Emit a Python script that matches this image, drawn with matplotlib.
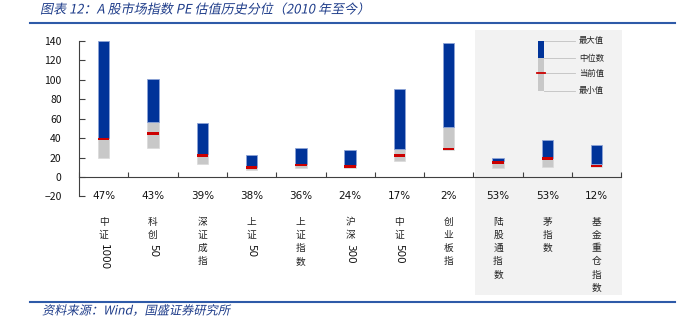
import matplotlib
matplotlib.use("Agg")
import matplotlib.pyplot as plt
import matplotlib.transforms as mtransforms
from matplotlib.patches import Rectangle
from matplotlib.lines import Line2D
from matplotlib.patheffects import AbstractPathEffect
import numpy as np

# data
names = ['中证1000', '科创50', '深证成指', '上证50', '上证指数', '沪深300',
         '中证500', '创业板指', '陆股通指数', '茅指数', '基金重仓指数']
pct = ['47%', '43%', '39%', '38%', '36%', '24%', '17%', '2%', '53%', '53%', '12%']
max_v = [140, 101, 56, 23, 30, 28, 91, 137.5, 19.5, 38, 33]
median_v = [40, 57, 24, 10.5, 13.5, 12, 28.5, 51, 16, 20, 13.4]
current_v = [39, 45, 22, 9.5, 12.5, 11, 22, 29, 15, 19, 11.3]
min_v = [19.5, 30, 13, 7.5, 9, 9, 16, 28, 9.6, 10.6, 9.8]
yticks = [-20, 0, 20, 40, 60, 80, 100, 120, 140]
legend_labels = ['最大值', '中位数', '当前值', '最小值']

plt.rcParams['font.family'] = ['Noto Sans CJK SC', 'DejaVu Sans']

W, H = 678, 326
fig = plt.figure(figsize=(W / 100, H / 100), dpi=100)
fig.patch.set_facecolor('white')

def fx(px):
    return px / W

def fy(py):
    return 1 - py / H

BLUE = '#003399'
GRAY = '#C8C8C8'
RED = '#CC0000'
TITLE_C = '#1F3D8A'
LINE_C = '#2E5AA8'


class Slant(AbstractPathEffect):
    # fake italic: shear glyphs about the text origin (CJK fonts have no italic)
    def draw_path(self, renderer, gc, tpath, affine, rgbFace=None):
        m = affine.get_matrix()
        x0, y0 = m[0, 2], m[1, 2]
        sk = mtransforms.Affine2D().translate(-x0, -y0).skew_deg(12, 0).translate(x0, y0)
        renderer.draw_path(gc, tpath, affine + sk, rgbFace)


# shaded area behind last three indices
fig.patches.append(Rectangle((fx(475), fy(295)), fx(622) - fx(475), fy(30) - fy(295),
                             transform=fig.transFigure, facecolor='#F2F2F2',
                             edgecolor='none', zorder=0))

ax = fig.add_axes([fx(79), fy(196.4), fx(621.3) - fx(79), fy(41) - fy(196.4)])
ax.patch.set_alpha(0)
ax.set_zorder(2)

x = np.arange(len(names))
mx = np.array(max_v)
md = np.array(median_v)
cu = np.array(current_v)
mn = np.array(min_v)
bw = 0.23

ax.bar(x, md - mn, bottom=mn, width=bw, color=GRAY, edgecolor='#DADADA', linewidth=0.5, zorder=3)
ax.bar(x, mx - md, bottom=md, width=bw, color=BLUE, edgecolor='#8DA3D6', linewidth=0.6, zorder=3)
ax.bar(x, 2.6, bottom=cu - 1.3, width=bw, color=RED, edgecolor='none', zorder=4)

ax.set_xlim(-0.5, len(names) - 0.5)
ax.set_ylim(-20, 140)
ax.set_yticks(yticks)
ax.set_xticks(np.arange(-0.5, len(names), 1))
ax.set_xticklabels([])
ax.tick_params(axis='y', direction='in', length=4, pad=12.5, labelsize=7.5,
               color='#404040', labelcolor='#111111')
ax.tick_params(axis='x', direction='in', length=3.5, color='#404040')
for s in ['top', 'right']:
    ax.spines[s].set_visible(False)
ax.spines['bottom'].set_position(('data', 0))
ax.spines['bottom'].set_color('#404040')
ax.spines['left'].set_color('#404040')

# percentile and vertical category labels
tr = mtransforms.blended_transform_factory(ax.transData, fig.transFigure)
for i, (nm, p) in enumerate(zip(names, pct)):
    ax.text(i, fy(196), p, transform=tr, ha='center', va='center',
            fontsize=7.5, family='DejaVu Sans', color='#111111', clip_on=False)
    pos = 215.5
    j = 0
    while j < len(nm):
        ch = nm[j]
        if ch.isdigit():
            k = j
            while k < len(nm) and nm[k].isdigit():
                k += 1
            ax.text(i, fy(pos + 2), nm[j:k], transform=tr, ha='center', va='top',
                    rotation=-90, fontsize=7.5, family='DejaVu Sans',
                    color='#111111', clip_on=False)
            pos += (k - j) * 7
            j = k
        else:
            ax.text(i, fy(pos + 6.5), ch, transform=tr, ha='center', va='center',
                    fontsize=7, color='#222222', clip_on=False)
            pos += 13.15
            j += 1

# legend key
lx0, lx1 = 538, 544
ly = [40.7, 58.3, 73.3, 91]
fig.patches.append(Rectangle((fx(lx0), fy(ly[1])), fx(lx1) - fx(lx0), fy(ly[0]) - fy(ly[1]),
                             transform=fig.transFigure, facecolor=BLUE, edgecolor='none', zorder=5))
fig.patches.append(Rectangle((fx(lx0), fy(ly[3])), fx(lx1) - fx(lx0), fy(ly[1]) - fy(ly[3]),
                             transform=fig.transFigure, facecolor=GRAY, edgecolor='none', zorder=5))
fig.lines.append(Line2D([fx(lx0 - 1.5), fx(lx1 + 1)], [fy(ly[2]), fy(ly[2])],
                        transform=fig.transFigure, color=RED, lw=1.3, zorder=6))
for yy, lab in zip(ly, legend_labels):
    fig.lines.append(Line2D([fx(lx1), fx(575)], [fy(yy), fy(yy)], transform=fig.transFigure,
                            color='#C0C0C0', lw=0.6, zorder=4))
    fig.text(fx(579), fy(yy), lab, ha='left', va='center', fontsize=6, color='#222222')

# title, rules and source
fig.text(fx(40), fy(10), '图表 12：A 股市场指数 PE 估值历史分位（2010 年至今）',
         ha='left', va='center', fontsize=9.4, color=TITLE_C, path_effects=[Slant()])
fig.lines.append(Line2D([fx(30), fx(675)], [fy(23), fy(23)], transform=fig.transFigure,
                        color=LINE_C, lw=1.5))
fig.lines.append(Line2D([fx(30), fx(675)], [fy(302), fy(302)], transform=fig.transFigure,
                        color=LINE_C, lw=1.5))
fig.text(fx(42), fy(311), '资料来源：Wind，国盛证券研究所', ha='left', va='center',
         fontsize=8.8, color=TITLE_C, path_effects=[Slant()])

fig.savefig('out.png', dpi=100)
